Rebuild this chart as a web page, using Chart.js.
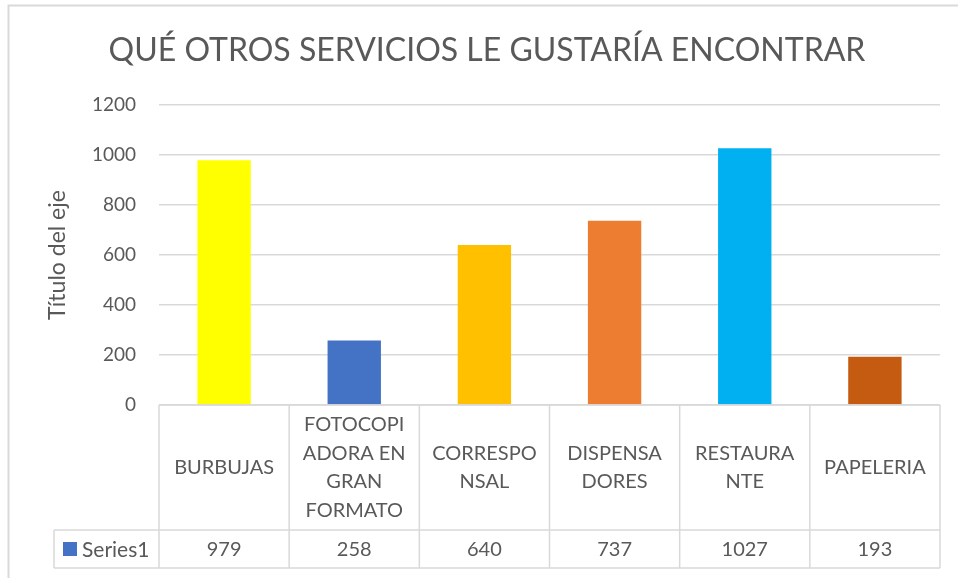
<!DOCTYPE html>
<html>
<head>
<meta charset="utf-8">
<script src="https://cdn.jsdelivr.net/npm/chart.js@4/dist/chart.umd.min.js"></script>
<style>
html,body{margin:0;padding:0;background:#fff;}
#wrap{width:958px;height:578px;position:relative;}
</style>
</head>
<body>
<div id="wrap"><canvas id="c" width="958" height="578"></canvas></div>
<script>
const chartTitle = "QUÉ OTROS SERVICIOS LE GUSTARÍA ENCONTRAR";
const yAxisTitle = "Título del eje";
const seriesName = "Series1";
const categories = [
  ["BURBUJAS"],
  ["FOTOCOPI", "ADORA EN", "GRAN", "FORMATO"],
  ["CORRESPO", "NSAL"],
  ["DISPENSA", "DORES"],
  ["RESTAURA", "NTE"],
  ["PAPELERIA"]
];
const values = [979, 258, 640, 737, 1027, 193];
const barColors = ["#FFFF00", "#4472C4", "#FFC000", "#ED7D31", "#00B0F0", "#C55A11"];
const yTicks = { min: 0, max: 1200, step: 200 };

const FONT = "Lato, 'Open Sans', sans-serif";
const TEXT = "#595959";
const LINE = "#d9d9d9";

const tablePlugin = {
  id: "dataTable",
  beforeDraw(chart) {
    const ctx = chart.ctx;
    ctx.save();
    ctx.strokeStyle = LINE;
    ctx.lineWidth = 2;
    ctx.beginPath();
    ctx.moveTo(8.5, 578);
    ctx.lineTo(8.5, 5.5);
    ctx.lineTo(958, 5.5);
    ctx.stroke();
    ctx.restore();
  },
  afterDatasetsDraw(chart) {
    const ctx = chart.ctx;
    const area = chart.chartArea;
    const xs = chart.scales.x;
    const n = categories.length;
    const colW = (area.right - area.left) / n;
    const top = area.bottom;
    const catBottom = 530;
    const rowBottom = 568;
    const legLeft = 54;
    ctx.save();
    ctx.strokeStyle = LINE;
    ctx.lineWidth = 1.5;
    ctx.beginPath();
    ctx.moveTo(area.left, top); ctx.lineTo(area.right, top);
    ctx.moveTo(legLeft, catBottom); ctx.lineTo(area.right, catBottom);
    ctx.moveTo(legLeft, rowBottom); ctx.lineTo(area.right, rowBottom);
    ctx.moveTo(legLeft, catBottom); ctx.lineTo(legLeft, rowBottom);
    for (let i = 0; i <= n; i++) {
      const x = area.left + i * colW;
      ctx.moveTo(x, top); ctx.lineTo(x, rowBottom);
    }
    ctx.stroke();

    ctx.fillStyle = TEXT;
    ctx.font = "20px " + FONT;
    ctx.textAlign = "center";
    ctx.textBaseline = "middle";
    const lh = 28.5;
    const midCat = (top + catBottom) / 2;
    for (let i = 0; i < n; i++) {
      const cx = xs.getPixelForValue(i);
      const lines = categories[i];
      const start = midCat - (lines.length - 1) * lh / 2;
      lines.forEach((t, k) => ctx.fillText(t, cx, start + k * lh));
      ctx.fillText(String(values[i]), cx, (catBottom + rowBottom) / 2 + 1);
    }
    // legend key
    ctx.fillStyle = "#4472C4";
    ctx.fillRect(63, 542, 14, 14);
    ctx.fillStyle = TEXT;
    ctx.textAlign = "left";
    ctx.font = "21px " + FONT;
    ctx.fillText(seriesName, 82, (catBottom + rowBottom) / 2 + 1);
    ctx.restore();
  }
};

new Chart(document.getElementById("c"), {
  type: "bar",
  data: {
    labels: categories,
    datasets: [{
      label: seriesName,
      data: values,
      backgroundColor: barColors,
      borderWidth: 0,
      categoryPercentage: 1,
      barPercentage: 0.41
    }]
  },
  options: {
    responsive: false,
    animation: false,
    devicePixelRatio: 1,
    layout: { padding: { left: 34, right: 18, top: 0, bottom: 173 } },
    plugins: {
      legend: { display: false },
      tooltip: { enabled: false },
      title: {
        display: true,
        text: chartTitle,
        color: TEXT,
        font: { family: FONT, size: 32, weight: "normal", lineHeight: 1.2 },
        padding: { top: 31, bottom: 35.6 }
      }
    },
    scales: {
      x: {
        display: false
      },
      y: {
        min: yTicks.min,
        max: yTicks.max,
        afterFit(scale) { scale.width = 125; },
        ticks: {
          stepSize: yTicks.step,
          color: TEXT,
          padding: 23,
          font: { family: FONT, size: 19 },
          callback: (v) => String(v)
        },
        grid: { color: LINE, lineWidth: 1.5, drawTicks: false },
        border: { display: false },
        title: {
          display: true,
          text: yAxisTitle,
          color: TEXT,
          font: { family: FONT, size: 23, lineHeight: 1.2 },
          padding: { top: 10, bottom: 0 }
        }
      }
    }
  },
  plugins: [tablePlugin]
});
</script>
</body>
</html>
